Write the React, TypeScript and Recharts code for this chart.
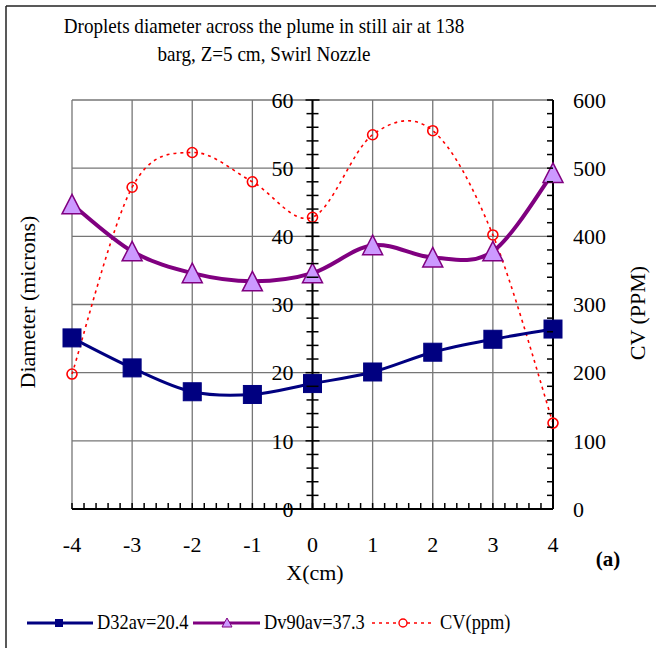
import React from 'react';
import { LineChart, Line, XAxis, YAxis, ReferenceLine } from 'recharts';

// ---------- data ----------
const xValues = [-4, -3, -2, -1, 0, 1, 2, 3, 4];
const d32Values = [25.1, 20.7, 17.2, 16.8, 18.4, 20.1, 23.0, 24.9, 26.4];
const dv90Values = [44.7, 37.8, 34.6, 33.4, 34.6, 38.7, 36.9, 37.8, 49.3];
const cvValues = [198, 472, 523, 480, 428, 549, 555, 402, 126];

const xTickLabels = [-4, -3, -2, -1, 0, 1, 2, 3, 4];
const leftTickLabels = [0, 10, 20, 30, 40, 50, 60];
const rightTickLabels = [0, 100, 200, 300, 400, 500, 600];

const titleLines = ['Droplets diameter across the plume in still air at 138', 'barg, Z=5 cm, Swirl Nozzle'];
const xTitle = 'X(cm)';
const leftTitle = 'Diameter (microns)';
const rightTitle = 'CV (PPM)';
const panelTag = '(a)';
const seriesNames = ['D32av=20.4', 'Dv90av=37.3', 'CV(ppm)'];

const data = xValues.map((x, i) => ({ x, d32: d32Values[i], dv90: dv90Values[i], cv: cvValues[i] }));

// minor tick positions (axis furniture)
const xMinorTicks = Array.from({ length: 41 }, (_, i) => Math.round((-4 + i * 0.2) * 10) / 10);
const leftMinorTicks = Array.from({ length: 31 }, (_, i) => i * 2);
const rightMinorTicks = Array.from({ length: 31 }, (_, i) => i * 20);

// ---------- layout ----------
const W = 656;
const H = 648;
const PLOT_LEFT = 72;
const PLOT_RIGHT = 553;
const PLOT_TOP = 100;
const PLOT_BOTTOM = 509;
const PLOT_W = PLOT_RIGHT - PLOT_LEFT;

const FONT = '"Liberation Serif", "Times New Roman", serif';
const NAVY = '#000080';
const PURPLE = '#800080';
const LILAC = '#CC99FF';
const RED = '#FF0000';
const GRID = '#767676';

// Excel-like smoothed curve (Catmull-Rom style bezier)
const excelSmooth: any = (context: any) => {
  let pts: [number, number][] = [];
  return {
    areaStart() {},
    areaEnd() {},
    lineStart() {
      pts = [];
    },
    point(x: number, y: number) {
      pts.push([+x, +y]);
    },
    lineEnd() {
      const n = pts.length;
      if (n === 0) return;
      context.moveTo(pts[0][0], pts[0][1]);
      if (n === 1) return;
      for (let i = 0; i < n - 1; i++) {
        const p0 = pts[Math.max(i - 1, 0)];
        const p1 = pts[i];
        const p2 = pts[i + 1];
        const p3 = pts[Math.min(i + 2, n - 1)];
        context.bezierCurveTo(
          p1[0] + (p2[0] - p0[0]) / 6,
          p1[1] + (p2[1] - p0[1]) / 6,
          p2[0] - (p3[0] - p1[0]) / 6,
          p2[1] - (p3[1] - p1[1]) / 6,
          p2[0],
          p2[1]
        );
      }
    },
  };
};

const isInt = (v: number) => Math.abs(v - Math.round(v)) < 1e-6;

const XTick = (props: any) => {
  const { x, y, payload } = props;
  const v = payload.value;
  return (
    <g>
      <line x1={x} y1={y} x2={x} y2={y - 6} stroke="#000" strokeWidth={1.5} />
      {isInt(v) && (
        <text x={x} y={y + 43} textAnchor="middle" fontFamily={FONT} fontSize={22} fill="#000">
          {Math.round(v)}
        </text>
      )}
    </g>
  );
};

const LeftTick = (props: any) => {
  const { x, y, payload } = props;
  const v = payload.value;
  const cx = x + PLOT_W / 2;
  const major = v % 10 === 0;
  return (
    <g>
      <line x1={cx - (major ? 7 : 6)} y1={y} x2={cx + (major ? 7 : 6)} y2={y} stroke="#000" strokeWidth={1.5} />
      {major && (
        <text x={cx - 19} y={y} dy="0.35em" textAnchor="end" fontFamily={FONT} fontSize={22} fill="#000">
          {v}
        </text>
      )}
    </g>
  );
};

const RightTick = (props: any) => {
  const { x, y, payload } = props;
  const v = payload.value;
  const major = v % 100 === 0;
  return (
    <g>
      <line x1={x - 6} y1={y} x2={x} y2={y} stroke="#000" strokeWidth={1.5} />
      {major && (
        <text x={x + 20} y={y} dy="0.35em" textAnchor="start" fontFamily={FONT} fontSize={22} fill="#000">
          {v}
        </text>
      )}
    </g>
  );
};

const SquareDot = (props: any) => {
  const { cx, cy, index } = props;
  if (cx == null || cy == null) return <g key={`sq-${index}`} />;
  return <rect key={`sq-${index}`} x={cx - 9} y={cy - 9} width={18} height={18} fill={NAVY} stroke={NAVY} strokeWidth={1} />;
};

const TriangleDot = (props: any) => {
  const { cx, cy, index } = props;
  if (cx == null || cy == null) return <g key={`tr-${index}`} />;
  const d = `M${cx},${cy - 10} L${cx + 10},${cy + 9.5} L${cx - 10},${cy + 9.5} Z`;
  return <path key={`tr-${index}`} d={d} fill={LILAC} stroke={PURPLE} strokeWidth={1.5} />;
};

const CircleDot = (props: any) => {
  const { cx, cy, index } = props;
  if (cx == null || cy == null) return <g key={`ci-${index}`} />;
  return <circle key={`ci-${index}`} cx={cx} cy={cy} r={5} fill="none" stroke={RED} strokeWidth={1.6} />;
};

const Legend = () => {
  const y = 623;
  const items = [
    { x1: 27, x2: 93, mx: 59, tx: 97 },
    { x1: 193, x2: 260, mx: 227, tx: 264 },
    { x1: 372, x2: 434, mx: 403, tx: 440 },
  ];
  return (
    <g>
      <line x1={items[0].x1} y1={y} x2={items[0].x2} y2={y} stroke={NAVY} strokeWidth={3} />
      <rect x={items[0].mx - 4} y={y - 4} width={8} height={8} fill={NAVY} />
      <text transform={`translate(${items[0].tx},629) scale(0.92,1)`} fontFamily={FONT} fontSize={20} fill="#000">{seriesNames[0]}</text>
      <line x1={items[1].x1} y1={y} x2={items[1].x2} y2={y} stroke={PURPLE} strokeWidth={3} />
      <path d={`M${items[1].mx},${y - 5} L${items[1].mx + 5},${y + 4} L${items[1].mx - 5},${y + 4} Z`} fill={LILAC} stroke={PURPLE} strokeWidth={1} />
      <text transform={`translate(${items[1].tx},629) scale(0.92,1)`} fontFamily={FONT} fontSize={20} fill="#000">{seriesNames[1]}</text>
      <line x1={items[2].x1} y1={y} x2={items[2].x2} y2={y} stroke={RED} strokeWidth={1.6} strokeDasharray="3 4" />
      <circle cx={items[2].mx} cy={y} r={4} fill="#fff" stroke={RED} strokeWidth={1.4} />
      <text transform={`translate(${items[2].tx},629) scale(0.92,1)`} fontFamily={FONT} fontSize={20} fill="#000">{seriesNames[2]}</text>
    </g>
  );
};

export default function App() {
  return (
    <div style={{ position: 'absolute', left: 0, top: 0, width: W, height: H, background: '#fff' }}>
      <LineChart
        width={W}
        height={H}
        data={data}
        margin={{ top: PLOT_TOP, right: 0, bottom: 0, left: 0 }}
      >
        <XAxis
          xAxisId="x"
          dataKey="x"
          type="number"
          domain={[-4, 4]}
          ticks={xMinorTicks}
          interval={0}
          height={H - PLOT_BOTTOM}
          tickLine={false}
          tickSize={0}
          tickMargin={0}
          axisLine={{ stroke: '#000', strokeWidth: 2 }}
          tick={<XTick />}
        />
        <YAxis
          yAxisId="left"
          orientation="left"
          type="number"
          domain={[0, 60]}
          ticks={leftMinorTicks}
          interval={0}
          width={PLOT_LEFT}
          tickLine={false}
          tickSize={0}
          tickMargin={0}
          axisLine={false}
          tick={<LeftTick />}
        />
        <YAxis
          yAxisId="right"
          orientation="right"
          type="number"
          domain={[0, 600]}
          ticks={rightMinorTicks}
          interval={0}
          width={W - PLOT_RIGHT}
          tickLine={false}
          tickSize={0}
          tickMargin={0}
          axisLine={{ stroke: '#000', strokeWidth: 2 }}
          tick={<RightTick />}
        />
        {xTickLabels.map((v) => (
          <ReferenceLine key={`gx${v}`} xAxisId="x" yAxisId="left" x={v} stroke={GRID} strokeWidth={1.3} zIndex={-10} />
        ))}
        {leftTickLabels.map((v) => (
          <ReferenceLine key={`gy${v}`} xAxisId="x" yAxisId="left" y={v} stroke={GRID} strokeWidth={1.3} zIndex={-10} />
        ))}
        <ReferenceLine xAxisId="x" yAxisId="left" x={0} stroke="#000" strokeWidth={2} zIndex={-5} />
        <Line
          xAxisId="x"
          yAxisId="right"
          dataKey="cv"
          type={excelSmooth}
          stroke={RED}
          strokeWidth={1.6}
          strokeDasharray="3 4"
          dot={CircleDot}
          activeDot={false}
          isAnimationActive={false}
        />
        <Line
          xAxisId="x"
          yAxisId="left"
          dataKey="dv90"
          type={excelSmooth}
          stroke={PURPLE}
          strokeWidth={4}
          dot={TriangleDot}
          activeDot={false}
          isAnimationActive={false}
        />
        <Line
          xAxisId="x"
          yAxisId="left"
          dataKey="d32"
          type={excelSmooth}
          stroke={NAVY}
          strokeWidth={3}
          dot={SquareDot}
          activeDot={false}
          isAnimationActive={false}
        />
      </LineChart>
      <svg
        width={W}
        height={H}
        style={{ position: 'absolute', left: 0, top: 0, pointerEvents: 'none' }}
      >
        <line x1={6} y1={6} x2={W} y2={6} stroke="#222" strokeWidth={1.5} />
        <line x1={6} y1={6} x2={6} y2={H} stroke="#222" strokeWidth={1.5} />
        <text transform="translate(264,33) scale(0.91,1)" textAnchor="middle" fontFamily={FONT} fontSize={21} fill="#000">{titleLines[0]}</text>
        <text transform="translate(264,61) scale(0.91,1)" textAnchor="middle" fontFamily={FONT} fontSize={21} fill="#000">{titleLines[1]}</text>
        <text x={315} y={580} textAnchor="middle" fontFamily={FONT} fontSize={22} fill="#000">{xTitle}</text>
        <text x={35} y={302} textAnchor="middle" transform="rotate(-90, 35, 302)" fontFamily={FONT} fontSize={22} fill="#000">{leftTitle}</text>
        <text x={645} y={313} textAnchor="middle" transform="rotate(-90, 645, 313)" fontFamily={FONT} fontSize={22} fill="#000">{rightTitle}</text>
        <text x={608} y={566} textAnchor="middle" fontFamily={FONT} fontSize={21} fontWeight="bold" fill="#000">{panelTag}</text>
        <Legend />
      </svg>
    </div>
  );
}
